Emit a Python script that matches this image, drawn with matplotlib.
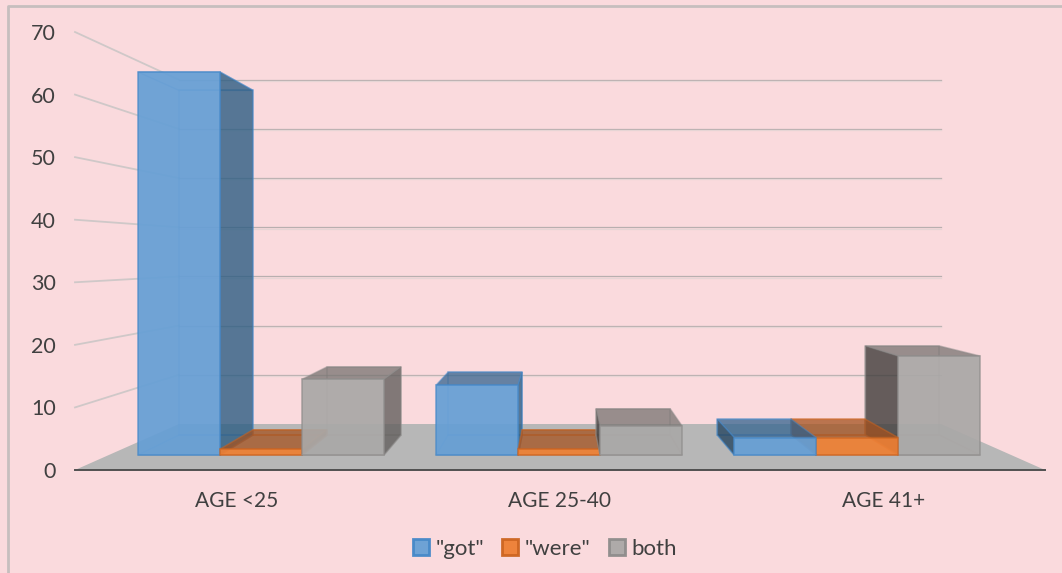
import matplotlib
matplotlib.use("Agg")
import matplotlib.pyplot as plt
from matplotlib.lines import Line2D
from matplotlib.patches import Polygon, Patch

categories = ["AGE <25", "AGE 25-40", "AGE 41+"]
series_names = ['"got"', '"were"', "both"]
got = [65.8, 12, 3]
were = [1, 1, 3]
both = [13, 5, 17]
y_ticks = [0, 10, 20, 30, 40, 50, 60, 70]

front_cols = ["#669FD5", "#EE7F33", "#AAA8A7"]
edge_cols = ["#4588C8", "#CC6420", "#8E8C8B"]
top_cols = ["#35648F", "#A5521F", "#777371"]
right_cols = ["#2D5D83", "#8F4519", "#63605E"]
left_cols = ["#264560", "#8F4519", "#403D3B"]

BG = "#FADADD"
TXT = "#404040"
BAR_OFF = 0.0844
BAR_W = 0.275
D_FRONT = 15 / 46
D_BACK = 35 / 46

plt.rcParams["font.family"] = ["Lato", "DejaVu Sans"]


def pt(x, d, v):
    # fake perspective: d=0 front of the floor, d=1 back wall
    s = 1 - 0.214 * d
    sx = 1 - 0.214 * d ** 0.9
    return (1.5 + sx * (x - 1.5), 7.35 * d + s * v)


def face(ax, pts, fc, ec, alpha=0.93, z=3, ea=0.75):
    ax.add_patch(Polygon(pts, closed=True, facecolor=matplotlib.colors.to_rgba(fc, alpha),
                         edgecolor=matplotlib.colors.to_rgba(ec, ea), lw=1.1, zorder=z, clip_on=False))


def draw_bar(ax, x0, x1, v, k, z):
    a = pt(x0, D_FRONT, 0)
    b = pt(x1, D_FRONT, 0)
    c = pt(x1, D_FRONT, v)
    e = pt(x0, D_FRONT, v)
    a2 = pt(x0, D_BACK, 0)
    b2 = pt(x1, D_BACK, 0)
    c2 = pt(x1, D_BACK, v)
    e2 = pt(x0, D_BACK, v)
    # hidden edges, only faint outlines
    ec = edge_cols[k]
    face(ax, [a2, b2, c2, e2], "none", ec, z=z, ea=0.45)
    face(ax, [a, b, b2, a2], "none", ec, z=z, ea=0.45)
    # top looks solid only when we see it from above
    if e2[1] > e[1]:
        face(ax, [e, c, c2, e2], top_cols[k], ec, alpha=0.75, z=z, ea=0.5)
    else:
        face(ax, [e, c, c2, e2], "none", ec, z=z, ea=0.45)
    if x1 < 1.5:
        face(ax, [b, b2, c2, c], right_cols[k], ec, alpha=0.8, z=z, ea=0.5)
    if x0 > 1.5:
        face(ax, [a, a2, e2, e], left_cols[k], ec, alpha=0.8, z=z, ea=0.5)
    face(ax, [a, b, c, e], front_cols[k], ec, z=z)


fig = plt.figure(figsize=(10.62, 5.73), dpi=100, facecolor=BG)
# frame of the slide, its right and bottom sides fall off the picture
fig.add_artist(Line2D([7.5 / 1062, 7.5 / 1062, 1], [0, 1 - 6 / 573, 1 - 6 / 573], transform=fig.transFigure,
                      color="#C6BEBE", lw=2))

ax = fig.add_axes([75 / 1062, 1 - 470 / 573, 970 / 1062, 438 / 573])
ax.set_facecolor("none")
ax.set_xlim(0, 3)
ax.set_ylim(0, 70)

# walls
for v in y_ticks[1:]:
    p0 = pt(0, 0, v)
    p1 = pt(0, 1, v)
    p2 = pt(3, 1, v)
    ax.plot([p0[0], p1[0]], [p0[1], p1[1]], color="#CFC8C8", lw=1.3, zorder=1, clip_on=False)
    ax.plot([p1[0], p2[0]], [p1[1], p2[1]], color="#B8AFAF", lw=0.9, zorder=1, clip_on=False)
    ax.plot([p1[0], p2[0]], [p1[1] - 0.2, p2[1] - 0.2], color="#E6D5D5", lw=0.9, zorder=1, clip_on=False)

# floor
ax.add_patch(Polygon([pt(0, 0, 0), pt(3, 0, 0), pt(3, 1, 0), pt(0, 1, 0)], closed=True,
                     facecolor="#B7B7B7", edgecolor="none", zorder=2))

values = [got, were, both]
for g in range(len(categories)):
    order = [0, 1, 2] if g < 2 else [2, 1, 0]
    for n, k in enumerate(order):
        x0 = g + BAR_OFF + k * BAR_W
        draw_bar(ax, x0, x0 + BAR_W, values[k][g], k, 3 + g + n * 0.1)

ax.set_xticks([0.5, 1.5, 2.5])
ax.set_xticklabels(categories)
ax.set_yticks(y_ticks)
ax.tick_params(axis="x", length=0, pad=15, labelsize=15, labelcolor=TXT)
ax.tick_params(axis="y", length=0, pad=14, labelsize=15.5, labelcolor=TXT)
for s in ["top", "left", "right"]:
    ax.spines[s].set_visible(False)
ax.spines["bottom"].set_color("#505050")
ax.spines["bottom"].set_linewidth(1.4)
ax.spines["bottom"].set_zorder(10)

handles = [Patch(facecolor=front_cols[i], edgecolor=edge_cols[i], lw=2, alpha=0.95) for i in range(3)]
fig.legend(handles, series_names, loc="center", bbox_to_anchor=(545 / 1062, 1 - 549 / 573), ncol=3, frameon=False,
           fontsize=16, labelcolor=TXT, handlelength=0.72, handleheight=0.72, handletextpad=0.3,
           columnspacing=0.8, borderpad=0)

fig.savefig("out.png", dpi=100, facecolor=BG)
